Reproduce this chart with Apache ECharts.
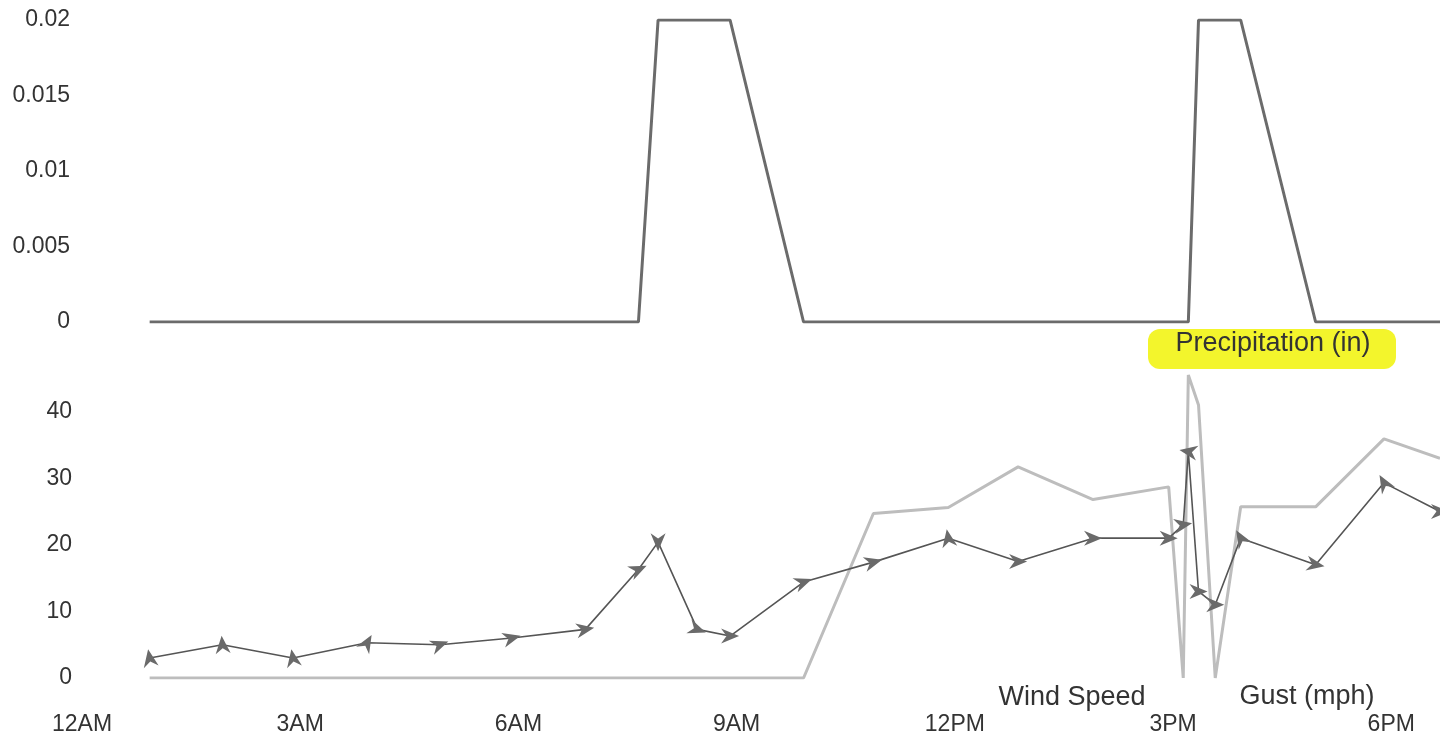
<!DOCTYPE html>
<html>
<head>
<meta charset="utf-8">
<script src="https://cdn.jsdelivr.net/npm/echarts@6/dist/echarts.min.js"></script>
<style>
html,body{margin:0;padding:0;background:#fff;}
#chart{width:1440px;height:736px;}
</style>
</head>
<body>
<div id="chart"></div>
<script>
// ---- data (hours since midnight) ----
const times = [0.93, 1.93, 2.90, 3.92, 4.92, 5.91, 6.92, 7.65, 7.92, 8.46, 8.91, 9.92, 10.88, 11.91, 12.87, 13.90, 14.94, 15.14, 15.21, 15.35, 15.58, 15.93, 16.96, 17.90, 18.67];
const precipitation = [0, 0, 0, 0, 0, 0, 0, 0, 0.02, 0.02, 0.02, 0, 0, 0, 0, 0, 0, 0, 0, 0.02, 0.02, 0.02, 0, 0, 0];
const windSpeed = [3, 5, 3, 5.3, 5, 6, 7.3, 16.3, 20.4, 7.3, 6.3, 14.4, 17.4, 21, 17.5, 21, 21, 23, 34, 13, 11, 21, 17, 29.3, 25];
const gust = [0, 0, 0, 0, 0, 0, 0, 0, 0, 0, 0, 0, 24.7, 25.6, 31.7, 26.8, 28.7, 0, 45.5, 41, 0, 25.7, 25.7, 35.9, 33];
const windDir = [100, 95, 100, 60, 20, 15, 10, 25, 270, -20, 0, 20, 15, 100, 0, 0, 0, 10, 170, 0, 0, 120, -10, 120, 0];
const xTickValues = [0, 3, 6, 9, 12, 15, 18];
const xTickLabels = ['12AM', '3AM', '6AM', '9AM', '12PM', '3PM', '6PM'];
const precipTicks = [0, 0.005, 0.01, 0.015, 0.02];
const windTicks = [0, 10, 20, 30, 40];

const FONT = 'Liberation Sans, Arial, sans-serif';
const pair = (vals) => times.map((t, i) => [t, vals[i]]);
const xMin = 0, xMax = 18.67;

const chart = echarts.init(document.getElementById('chart'), null, {renderer: 'canvas'});
chart.setOption({
  animation: false,
  backgroundColor: '#ffffff',
  grid: [
    {left: 82, right: 0, top: 20, height: 302},
    {left: 82, right: 0, top: 345, height: 334}
  ],
  xAxis: [
    {gridIndex: 0, type: 'value', min: xMin, max: xMax,
     axisLine: {show: false}, axisTick: {show: false}, splitLine: {show: false}, axisLabel: {show: false}},
    {gridIndex: 1, type: 'value', min: xMin, max: xMax,
     axisLine: {show: false}, axisTick: {show: false}, splitLine: {show: false},
     axisLabel: {
       customValues: xTickValues,
       formatter: (v) => { const i = xTickValues.findIndex(x => Math.abs(x - v) < 1e-6); return i >= 0 ? xTickLabels[i] : ''; },
       margin: 35, fontSize: 23, fontFamily: FONT, color: '#333'
     }}
  ],
  yAxis: [
    {gridIndex: 0, type: 'value', min: 0, max: 0.02,
     axisLine: {show: false}, axisTick: {show: false}, splitLine: {show: false},
     axisLabel: {customValues: precipTicks, margin: 12, fontSize: 23, fontFamily: FONT, color: '#333',
       formatter: (v) => String(+v.toFixed(3))}},
    {gridIndex: 1, type: 'value', min: 0, max: 50,
     axisLine: {show: false}, axisTick: {show: false}, splitLine: {show: false},
     axisLabel: {customValues: windTicks, margin: 10, fontSize: 23, fontFamily: FONT, color: '#333'}}
  ],
  series: [
    {name: 'Precipitation (in)', type: 'line', xAxisIndex: 0, yAxisIndex: 0,
     data: pair(precipitation), showSymbol: false, symbol: 'none',
     lineStyle: {color: '#6b6b6b', width: 3}},
    {name: 'Gust (mph)', type: 'line', xAxisIndex: 1, yAxisIndex: 1,
     data: pair(gust), showSymbol: false, symbol: 'none',
     lineStyle: {color: '#bdbdbd', width: 3}},
    {name: 'Wind Speed', type: 'line', xAxisIndex: 1, yAxisIndex: 1,
     data: pair(windSpeed),
     symbol: 'path://M20,10 L0,1 L6,10 L0,19 Z',
     symbolSize: [18, 15],
     symbolRotate: (val, params) => windDir[params.dataIndex],
     itemStyle: {color: '#6a6a6a'},
     lineStyle: {color: '#555', width: 1.6}}
  ],
  graphic: [
    {type: 'rect', shape: {x: 1148, y: 329, width: 248, height: 40, r: 12},
     style: {fill: '#f3f52c'}, z: 0},
    {type: 'text', x: 1273, y: 344, z: 10,
     style: {text: 'Precipitation (in)', font: '27px ' + FONT, fill: '#333', align: 'center', verticalAlign: 'middle'}},
    {type: 'text', x: 1072, y: 698, z: 10,
     style: {text: 'Wind Speed', font: '27px ' + FONT, fill: '#333', align: 'center', verticalAlign: 'middle'}},
    {type: 'text', x: 1307, y: 697, z: 10,
     style: {text: 'Gust (mph)', font: '27px ' + FONT, fill: '#333', align: 'center', verticalAlign: 'middle'}}
  ]
});
</script>
</body>
</html>
